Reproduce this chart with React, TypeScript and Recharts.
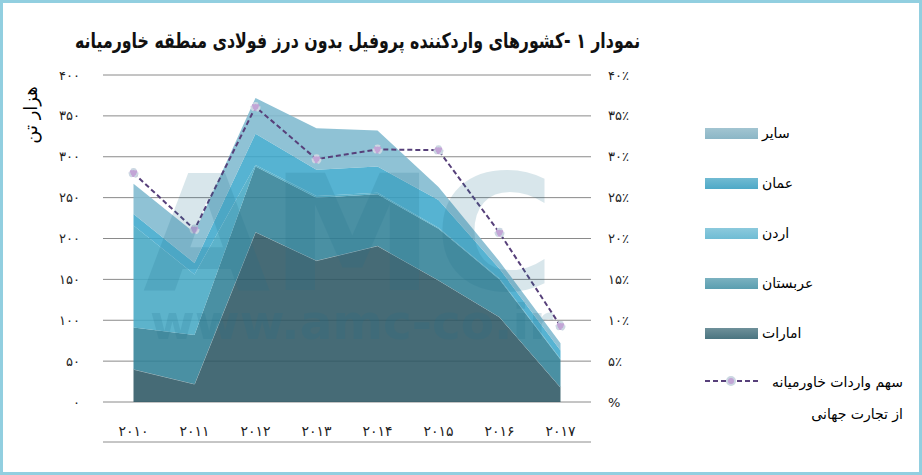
import React, { useLayoutEffect, useRef, useState } from "react";
import { ComposedChart, Area, Line, XAxis, YAxis, CartesianGrid } from "recharts";

// years 2010..2017, in Persian digits as in the source
const years = ["۲۰۱۰", "۲۰۱۱", "۲۰۱۲", "۲۰۱۳", "۲۰۱۴", "۲۰۱۵", "۲۰۱۶", "۲۰۱۷"];

// thousand tonnes, stacked bottom to top
const emirates = [40, 22, 208, 173, 191, 149, 104, 18];
const arabia = [51, 60, 80, 77, 63, 63, 46, 34];
const jordan = [125, 74, 2, 2, 2, 1, 1, 1];
const oman = [14, 14, 38, 32, 32, 34, 12, 10];
const others = [37, 37, 44, 51, 44, 16, 9, 9];

// middle east share of world trade, percent
const share = [28, 21.1, 36.1, 29.7, 30.9, 30.8, 20.7, 9.3];

const leftTicks = [0, 50, 100, 150, 200, 250, 300, 350, 400];
const rightTicks = [0, 5, 10, 15, 20, 25, 30, 35, 40];

const layers = [
  { key: "emirates", name: "امارات", fill: "#2c5663", legend: "#4a7480" },
  { key: "arabia", name: "عربستان", fill: "#318196", legend: "#5a9eb0" },
  { key: "jordan", name: "اردن", fill: "#47a9c4", legend: "#6fbcd4" },
  { key: "oman", name: "عمان", fill: "#3fa9cc", legend: "#4ea9c7" },
  { key: "others", name: "سایر", fill: "#7fbacf", legend: "#8bb6c6" },
];

const data = years.map((year, i) => ({
  year,
  emirates: emirates[i],
  arabia: arabia[i],
  jordan: jordan[i],
  oman: oman[i],
  others: others[i],
  share: share[i],
}));

const frameTicks = Array.from({ length: years.length + 1 }, (_, i) => i);

const fa = (v: number | string) =>
  String(v).replace(/\d/g, (d) => "۰۱۲۳۴۵۶۷۸۹"[Number(d)]);

const FONT = "'DejaVu Sans', sans-serif";
const tickStyle = { fontSize: 13, fill: "#222", fontFamily: FONT };

const TITLE = "نمودار ۱ -کشورهای واردکننده پروفیل بدون درز فولادی منطقه خاورمیانه";

function Title() {
  const ref = useRef<HTMLSpanElement>(null);
  const [k, setK] = useState(1);
  useLayoutEffect(() => {
    if (ref.current) setK(565 / ref.current.offsetWidth);
  }, []);
  return (
    <span
      ref={ref}
      dir="rtl"
      style={{
        position: "absolute",
        top: 26,
        right: 279,
        transform: `scaleX(${k})`,
        transformOrigin: "right center",
        fontFamily: "'DejaVu Sans Condensed', 'DejaVu Sans', sans-serif",
        fontWeight: "bold",
        fontSize: 21,
        color: "#111",
        whiteSpace: "nowrap",
      }}
    >
      {TITLE}
    </span>
  );
}

export default function App() {
  return (
    <div
      style={{
        position: "relative",
        width: 922,
        height: 475,
        boxSizing: "border-box",
        border: "3px solid #92cfe0",
        background: "#fff",
        overflow: "hidden",
      }}
    >
      <style>{`body{margin:0}`}</style>
      <Title />
      <div
        style={{
          position: "absolute",
          left: 27,
          top: 112,
          transform: "translate(-50%, -50%) rotate(-90deg)",
          direction: "rtl",
          fontFamily: FONT,
          fontSize: 18,
          whiteSpace: "nowrap",
        }}
      >
        هزار تن
      </div>

      <div style={{ position: "absolute", left: -3, top: -3 }}>
        <ComposedChart
          width={922}
          height={475}
          data={data}
          margin={{ top: 75, right: 271, bottom: 25, left: 43 }}
        >
          <CartesianGrid vertical={false} yAxisId="left" stroke="#8a8a8a" />
          <XAxis
            xAxisId="frame"
            type="number"
            domain={[0, 8]}
            ticks={frameTicks}
            allowDataOverflow
            tick={false}
            tickSize={7}
            height={8}
            stroke="#8c8c8c"
          />
          <XAxis
            xAxisId="cat"
            dataKey="year"
            scale="point"
            padding={{ left: 30.5, right: 30.5 }}
            axisLine={false}
            tickLine={false}
            tickSize={0}
            tickMargin={24}
            height={40}
            tick={{ ...tickStyle, fontSize: 14 }}
          />
          <YAxis
            yAxisId="left"
            domain={[0, 400]}
            ticks={leftTicks}
            width={60}
            axisLine={false}
            tickLine={false}
            tickSize={0}
            tickMargin={23}
            tickFormatter={(v: number) => fa(v)}
            tick={tickStyle}
          />
          <YAxis
            yAxisId="right"
            orientation="right"
            domain={[0, 40]}
            ticks={rightTicks}
            width={60}
            axisLine={false}
            tickLine={false}
            tickSize={0}
            tickMargin={17}
            tickFormatter={(v: number) => (v === 0 ? "%" : fa(v) + "٪")}
            tick={tickStyle}
          />
          {layers.map((l) => (
            <Area
              key={l.key}
              xAxisId="cat"
              yAxisId="left"
              type="linear"
              dataKey={l.key}
              name={l.name}
              stackId="1"
              fill={l.fill}
              fillOpacity={0.88}
              stroke={l.key === "emirates" ? "#a7bcc2" : "none"}
              strokeWidth={1}
              isAnimationActive={false}
            />
          ))}
          <Line
            xAxisId="cat"
            yAxisId="right"
            type="linear"
            dataKey="share"
            stroke="#57407a"
            strokeWidth={2}
            strokeDasharray="5 3"
            dot={{ r: 4, fill: "#c2a5d6", stroke: "#cbd7e2", strokeWidth: 2 }}
            isAnimationActive={false}
          />
        </ComposedChart>
      </div>

      {/* faint site watermark over the plot */}
      <svg
        width={922}
        height={475}
        style={{ position: "absolute", left: -3, top: -3, pointerEvents: "none" }}
      >
        <g fill="#1f6f8b" opacity={0.17} fontFamily={FONT} fontWeight="bold">
          <text x={143} y={290} fontSize={160} textLength={412} lengthAdjust="spacingAndGlyphs">
            AMC
          </text>
          <text x={150} y={339} fontSize={48} textLength={403} lengthAdjust="spacingAndGlyphs">
            www.amc-co.ir
          </text>
        </g>
      </svg>

      <div style={{ position: "absolute", left: 702, top: 0, fontFamily: FONT, fontSize: 14 }}>
        {[...layers].reverse().map((l, i) => (
          <div
            key={l.key}
            style={{
              position: "absolute",
              top: 122 + i * 50,
              left: 0,
              display: "flex",
              alignItems: "center",
              whiteSpace: "nowrap",
            }}
          >
            <div
              style={{
                width: 53,
                height: 11,
                background: `linear-gradient(${l.legend}cc, ${l.legend})`,
                marginRight: 4,
              }}
            />
            <span dir="rtl">{l.name}</span>
          </div>
        ))}
        <div style={{ position: "absolute", top: 368, left: 0, display: "flex" }}>
          <svg width={57} height={20}>
            <line x1={0} y1={10} x2={53} y2={10} stroke="#57407a" strokeWidth={2} strokeDasharray="5 3" />
            <circle cx={26} cy={10} r={4} fill="#c2a5d6" stroke="#cbd7e2" strokeWidth={2} />
          </svg>
          <div dir="rtl" style={{ width: 141, lineHeight: "32px", marginTop: -5 }}>
            سهم واردات خاورمیانه از تجارت جهانی
          </div>
        </div>
      </div>
    </div>
  );
}
